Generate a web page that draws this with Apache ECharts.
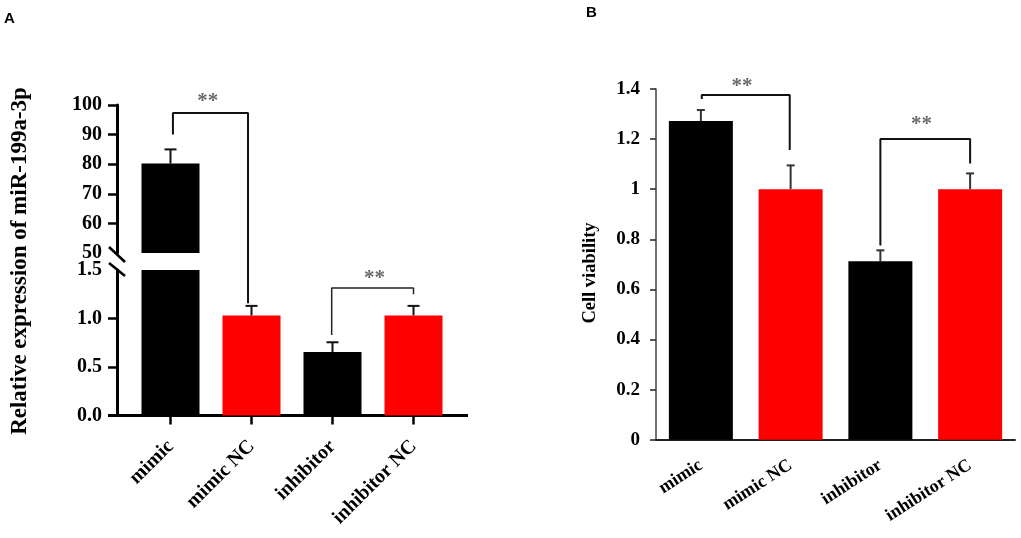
<!DOCTYPE html>
<html>
<head>
<meta charset="utf-8">
<style>
  html, body { margin: 0; padding: 0; background: #fff; }
  #chart { width: 1021px; height: 538px; }
</style>
<script src="https://cdn.jsdelivr.net/npm/echarts@6/dist/echarts.min.js"></script>
</head>
<body>
<div id="chart"></div>
<script>
const categories = ['mimic', 'mimic NC', 'inhibitor', 'inhibitor NC']

// panel A, relative expression
const exprValues = [80.2, 1.03, 0.655, 1.03]
const exprErrTops = [85, 1.13, 0.755, 1.13]
// panel B, cell viability
const viabValues = [1.272, 1, 0.712, 1]
const viabErrTops = [1.316, 1.095, 0.756, 1.063]

// significance brackets, [category position, value]
const exprBracketUpper = [[0.03, 90], [0.03, 97.3], [0.957, 97.3], [0.957, 33]]
const exprBracketLower = [[1.99, 0.83], [1.99, 1.315], [3, 1.315], [3, 1.25]]
const viabBracketLeft = [[0.01, 1.36], [0.01, 1.376], [0.99, 1.376], [0.99, 1.156]]
const viabBracketRight = [[2, 0.775], [2, 1.2], [3, 1.2], [3, 1.103]]
const starsUpper = [[0.46, 102.5]]
const starsLower = [[2.52, 1.45]]
const starsViab = [[0.457, 1.425], [2.458, 1.275]]

const SERIF = '"Liberation Serif", "Times New Roman", serif'
const BLACK = '#000'
const RED = '#f00'

function barSeries(values, xi, yi, width) {
  return {
    type: 'bar',
    data: values,
    xAxisIndex: xi,
    yAxisIndex: yi,
    barWidth: width,
    silent: true,
    itemStyle: { color: p => (p.dataIndex % 2 ? RED : BLACK) }
  }
}

// error bars: [category index, bar value, top of error]
function errorSeries(rows, xi, yi, capHalf, color, lineWidth) {
  return {
    type: 'custom',
    xAxisIndex: xi,
    yAxisIndex: yi,
    data: rows,
    encode: { x: 0, y: 2 },
    clip: false,
    silent: true,
    renderItem(params, api) {
      const base = api.coord([api.value(0), api.value(1)])
      const top = api.coord([api.value(0), api.value(2)])
      const style = { stroke: color, lineWidth: lineWidth, fill: null }
      return {
        type: 'group',
        children: [
          { type: 'line', shape: { x1: top[0], y1: base[1], x2: top[0], y2: top[1] }, style },
          { type: 'line', shape: { x1: top[0] - capHalf, y1: top[1], x2: top[0] + capHalf, y2: top[1] }, style }
        ]
      }
    }
  }
}

function bracketSeries(points, xi, yi, color, lineWidth) {
  return {
    type: 'line',
    data: points,
    xAxisIndex: xi,
    yAxisIndex: yi,
    showSymbol: false,
    clip: false,
    silent: true,
    lineStyle: { color: color, width: lineWidth }
  }
}

function starSeries(points, xi, yi) {
  return {
    type: 'scatter',
    data: points,
    xAxisIndex: xi,
    yAxisIndex: yi,
    symbolSize: 1,
    clip: false,
    silent: true,
    itemStyle: { color: 'transparent' },
    label: {
      show: true,
      position: 'inside',
      formatter: '**',
      color: '#444',
      fontFamily: SERIF,
      fontWeight: 'bold',
      fontSize: 21,
      offset: [0, 4]
    }
  }
}

function catAxis(grid, opts) {
  return Object.assign({
    type: 'category',
    gridIndex: grid,
    data: categories,
    axisTick: { show: false },
    axisLine: { show: false }
  }, opts)
}

// hidden axis, lets brackets and stars sit between category centres
function overlayAxis(grid) {
  return { type: 'value', gridIndex: grid, min: -0.5, max: 3.5, show: false, position: 'top' }
}

const leftAxisStyle = {
  axisLine: { show: true, onZero: false, lineStyle: { color: BLACK, width: 3 } },
  axisLabel: { color: BLACK, fontFamily: SERIF, fontWeight: 'bold', fontSize: 20, margin: 15 },
  splitLine: { show: false }
}

const option = {
  animation: false,
  backgroundColor: '#fff',
  grid: [
    { left: 130, top: 105, width: 324, height: 148 },
    { left: 130, top: 270, width: 324, height: 145.5 },
    { left: 656, top: 89, width: 359, height: 350.7 }
  ],
  xAxis: [
    catAxis(0, { show: false }),
    catAxis(1, {
      axisTick: { show: true, alignWithLabel: true, length: 9, lineStyle: { color: BLACK, width: 2.5 } },
      axisLine: { show: true, lineStyle: { color: BLACK, width: 3 } },
      axisLabel: {
        interval: 0, rotate: 45, margin: 28, color: BLACK,
        fontFamily: SERIF, fontWeight: 'bold', fontSize: 20
      }
    }),
    overlayAxis(0),
    overlayAxis(1),
    catAxis(2, {
      axisLine: { show: true, lineStyle: { color: '#222', width: 2 } },
      axisLabel: {
        interval: 0, rotate: 33, margin: 24, color: BLACK,
        fontFamily: SERIF, fontWeight: 'bold', fontSize: 18
      }
    }),
    overlayAxis(2)
  ],
  yAxis: [
    Object.assign({
      type: 'value', gridIndex: 0, min: 50, max: 100, interval: 10, offset: 13,
      axisTick: { show: true, length: 9, customValues: [60, 70, 80, 90, 100], lineStyle: { color: BLACK, width: 2.5 } }
    }, leftAxisStyle),
    Object.assign({
      type: 'value', gridIndex: 1, min: 0, max: 1.5, interval: 0.5, offset: 13,
      axisTick: { show: true, length: 9, customValues: [0, 0.5, 1], lineStyle: { color: BLACK, width: 2.5 } }
    }, leftAxisStyle, {
      axisLabel: Object.assign({}, leftAxisStyle.axisLabel, { formatter: v => v.toFixed(1) })
    }),
    {
      type: 'value', gridIndex: 2, min: 0, max: 1.4, interval: 0.2,
      axisLine: { show: true, onZero: false, lineStyle: { color: '#444', width: 1.5 } },
      axisTick: { show: true, length: 6, lineStyle: { color: '#222', width: 1.5 } },
      axisLabel: { color: BLACK, fontFamily: SERIF, fontWeight: 'bold', fontSize: 19, margin: 16 },
      splitLine: { show: false }
    }
  ],
  series: [
    barSeries(exprValues, 0, 0, 58),
    barSeries(exprValues, 1, 1, 58),
    barSeries(viabValues, 4, 2, 64),
    errorSeries([[0, exprValues[0], exprErrTops[0]]], 0, 0, 6, '#111', 2),
    errorSeries([1, 2, 3].map(i => [i, exprValues[i], exprErrTops[i]]), 1, 1, 6, '#111', 2),
    errorSeries(viabValues.map((v, i) => [i, v, viabErrTops[i]]), 4, 2, 4, '#333', 2),
    bracketSeries(exprBracketUpper, 2, 0, '#111', 2),
    bracketSeries(exprBracketLower, 3, 1, '#222', 1.5),
    bracketSeries(viabBracketLeft, 5, 2, '#111', 2),
    bracketSeries(viabBracketRight, 5, 2, '#111', 2),
    starSeries(starsUpper, 2, 0),
    starSeries(starsLower, 3, 1),
    starSeries(starsViab, 5, 2)
  ],
  graphic: [
    // baseline of panel A runs past the bars on both sides
    { type: 'line', shape: { x1: 108, y1: 415.5, x2: 468, y2: 415.5 }, style: { stroke: BLACK, lineWidth: 3 } },
    // axis break marks
    { type: 'line', shape: { x1: 109, y1: 247, x2: 125, y2: 262 }, style: { stroke: BLACK, lineWidth: 2.5 } },
    { type: 'line', shape: { x1: 109, y1: 263, x2: 125, y2: 276 }, style: { stroke: BLACK, lineWidth: 2.5 } },
    {
      type: 'text', x: 20, y: 261, rotation: Math.PI / 2,
      style: {
        text: 'Relative expression of miR-199a-3p', align: 'center', verticalAlign: 'middle',
        fill: BLACK, font: 'bold 23px ' + SERIF
      }
    },
    {
      type: 'text', x: 590, y: 273, rotation: Math.PI / 2,
      style: {
        text: 'Cell viability', align: 'center', verticalAlign: 'middle',
        fill: BLACK, font: 'bold 18.5px ' + SERIF
      }
    },
    { type: 'text', x: 4, y: 11, style: { text: 'A', fill: BLACK, font: 'bold 15px "Liberation Sans", Arial, sans-serif' } },
    { type: 'text', x: 586, y: 5, style: { text: 'B', fill: BLACK, font: 'bold 15px "Liberation Sans", Arial, sans-serif' } }
  ]
}

const chart = echarts.init(document.getElementById('chart'), null, { renderer: 'canvas' })
chart.setOption(option)
</script>
</body>
</html>
